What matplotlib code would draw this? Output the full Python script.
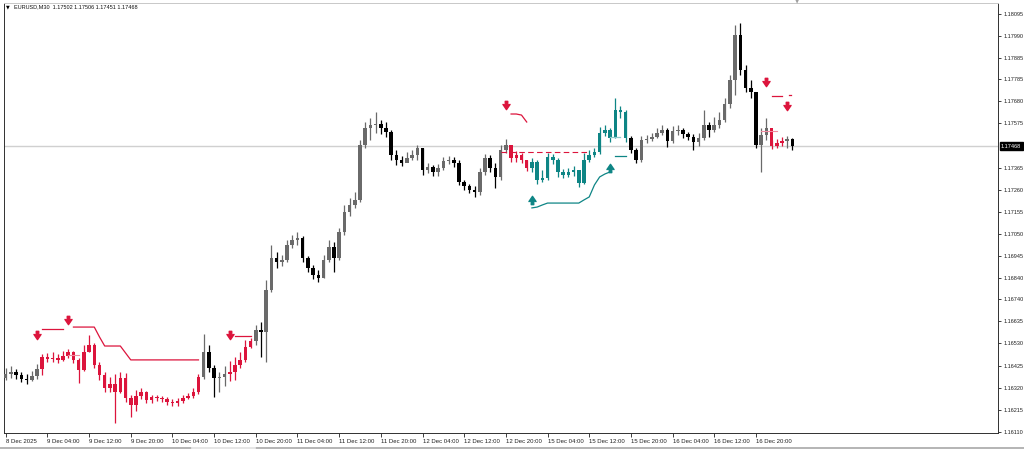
import numpy as np
import matplotlib
matplotlib.use("Agg")
import matplotlib.pyplot as plt
from matplotlib.path import Path
import matplotlib.transforms as mtransforms

# EURUSD, hourly steps
open0 = 1.16366
close = [1.16385, 1.16395, 1.16380, 1.16361, 1.16357, 1.16376, 1.16409, 1.16466,
         1.16456, 1.16461, 1.16452, 1.16471, 1.16490, 1.16452, 1.16404, 1.16490,
         1.16523, 1.16428, 1.16380, 1.16319, 1.16338, 1.16300, 1.16366, 1.16271,
         1.16238, 1.16281, 1.16300, 1.16262, 1.16276, 1.16271, 1.16266, 1.16252,
         1.16247, 1.16257, 1.16271, 1.16281, 1.16300, 1.16371, 1.16490, 1.16414,
         1.16366, 1.16371, 1.16385, 1.16395, 1.16428, 1.16452, 1.16513, 1.16542,
         1.16594, 1.16585, 1.16784, 1.16936, 1.16917, 1.16927, 1.16998, 1.17022,
         1.17031, 1.16936, 1.16889, 1.16855, 1.16841, 1.16927, 1.16988, 1.16936,
         1.17060, 1.17155, 1.17188, 1.17212, 1.17473, 1.17554, 1.17568, 1.17573,
         1.17554, 1.17535, 1.17425, 1.17402, 1.17387, 1.17411, 1.17425, 1.17459,
         1.17354, 1.17368, 1.17345, 1.17364, 1.17397, 1.17402, 1.17387, 1.17297,
         1.17278, 1.17259, 1.17250, 1.17345, 1.17411, 1.17364, 1.17321, 1.17449,
         1.17473, 1.17411, 1.17425, 1.17402, 1.17364, 1.17392, 1.17307, 1.17316,
         1.17416, 1.17402, 1.17345, 1.17330, 1.17345, 1.17354, 1.17292, 1.17402,
         1.17425, 1.17440, 1.17530, 1.17544, 1.17506, 1.17639, 1.17630, 1.17506,
         1.17449, 1.17402, 1.17497, 1.17501, 1.17511, 1.17530, 1.17544, 1.17492,
         1.17539, 1.17544, 1.17525, 1.17511, 1.17487, 1.17506, 1.17568, 1.17544,
         1.17568, 1.17592, 1.17668, 1.17782, 1.17995, 1.17829, 1.17744, 1.17725,
         1.17473, 1.17520, 1.17554, 1.17468, 1.17482, 1.17492, 1.17502, 1.17468]
high = [1.16414, 1.16423, 1.16409, 1.16395, 1.16385, 1.16399, 1.16433, 1.16480,
        1.16485, 1.16490, 1.16480, 1.16494, 1.16504, 1.16494, 1.16461, 1.16523,
        1.16570, 1.16532, 1.16442, 1.16395, 1.16371, 1.16385, 1.16395, 1.16390,
        1.16285, 1.16309, 1.16319, 1.16304, 1.16285, 1.16285, 1.16281, 1.16276,
        1.16266, 1.16271, 1.16285, 1.16295, 1.16319, 1.16385, 1.16575, 1.16523,
        1.16428, 1.16395, 1.16423, 1.16447, 1.16466, 1.16490, 1.16547, 1.16556,
        1.16618, 1.16632, 1.16832, 1.16998, 1.16965, 1.16950, 1.17022, 1.17045,
        1.17060, 1.17041, 1.16946, 1.16903, 1.16879, 1.16950, 1.17022, 1.17012,
        1.17079, 1.17188, 1.17221, 1.17250, 1.17497, 1.17582, 1.17601, 1.17630,
        1.17592, 1.17582, 1.17544, 1.17449, 1.17421, 1.17440, 1.17449, 1.17473,
        1.17459, 1.17387, 1.17378, 1.17383, 1.17416, 1.17421, 1.17416, 1.17402,
        1.17307, 1.17288, 1.17278, 1.17364, 1.17430, 1.17425, 1.17387, 1.17473,
        1.17501, 1.17459, 1.17444, 1.17435, 1.17402, 1.17411, 1.17402, 1.17354,
        1.17435, 1.17430, 1.17411, 1.17359, 1.17364, 1.17373, 1.17354, 1.17435,
        1.17449, 1.17459, 1.17558, 1.17568, 1.17554, 1.17696, 1.17658, 1.17639,
        1.17516, 1.17459, 1.17516, 1.17520, 1.17530, 1.17554, 1.17568, 1.17554,
        1.17563, 1.17568, 1.17554, 1.17535, 1.17525, 1.17530, 1.17639, 1.17582,
        1.17606, 1.17630, 1.17696, 1.17805, 1.18043, 1.18052, 1.17853, 1.17782,
        1.17725, 1.17554, 1.17601, 1.17497, 1.17501, 1.17511, 1.17516, 1.17506]
low = [1.16357, 1.16366, 1.16361, 1.16347, 1.16338, 1.16352, 1.16361, 1.16380,
       1.16442, 1.16442, 1.16437, 1.16447, 1.16461, 1.16437, 1.16342, 1.16399,
       1.16490, 1.16414, 1.16357, 1.16300, 1.16300, 1.16152, 1.16295, 1.16252,
       1.16181, 1.16209, 1.16266, 1.16247, 1.16247, 1.16257, 1.16252, 1.16238,
       1.16233, 1.16233, 1.16247, 1.16266, 1.16271, 1.16290, 1.16361, 1.16395,
       1.16276, 1.16300, 1.16328, 1.16352, 1.16357, 1.16414, 1.16442, 1.16509,
       1.16523, 1.16466, 1.16442, 1.16775, 1.16889, 1.16898, 1.16917, 1.16984,
       1.16998, 1.16917, 1.16870, 1.16836, 1.16822, 1.16841, 1.16917, 1.16870,
       1.16927, 1.17045, 1.17136, 1.17174, 1.17202, 1.17459, 1.17497, 1.17530,
       1.17525, 1.17511, 1.17402, 1.17378, 1.17373, 1.17392, 1.17402, 1.17402,
       1.17330, 1.17340, 1.17326, 1.17326, 1.17354, 1.17383, 1.17368, 1.17283,
       1.17259, 1.17245, 1.17226, 1.17235, 1.17330, 1.17345, 1.17269, 1.17307,
       1.17435, 1.17392, 1.17392, 1.17387, 1.17349, 1.17345, 1.17288, 1.17297,
       1.17307, 1.17383, 1.17321, 1.17316, 1.17321, 1.17326, 1.17273, 1.17288,
       1.17392, 1.17416, 1.17430, 1.17516, 1.17487, 1.17506, 1.17601, 1.17487,
       1.17435, 1.17387, 1.17392, 1.17482, 1.17492, 1.17506, 1.17520, 1.17463,
       1.17482, 1.17520, 1.17506, 1.17497, 1.17449, 1.17468, 1.17497, 1.17511,
       1.17535, 1.17554, 1.17582, 1.17649, 1.17710, 1.17805, 1.17725, 1.17696,
       1.17459, 1.17345, 1.17497, 1.17454, 1.17459, 1.17468, 1.17459, 1.17451]

# bars coloured by the trend indicator
red_bars = [(7, 37), (43, 47), (97, 100), (147, 149)]
teal_bars = [(101, 119)]

# indicator trailing lines: (first bar, values)
red_lines = [(7, [1.16599] * 5),
             (13, [1.16608] * 5 + [1.16561] + [1.16518] * 4 + [1.16485] + [1.16452] * 14),
             (44, [1.16566] * 4),
             (97, [1.17620, 1.17620, 1.17615, 1.17582]),
             (147, [1.17706] * 3)]
teal_line = (101, [1.17174, 1.17178, 1.17188] + [1.17197] * 7 + [1.17212, 1.17226, 1.17283,
             1.17321, 1.17335, 1.17345])
teal_short = [(117, [1.17421] * 3)]
light_teal = [(116, [1.17511] * 3)]
pink_lines = [(12, [1.16475] * 3), (145, [1.17539] * 4)]
red_dash = (95, 112, 1.17440)

down_arrows = [(6, 1.16570), (12, 1.16642), (43, 1.16570), (96, 1.17663), (146, 1.17772), (150, 1.17658)]
up_arrows = [(101, 1.17212), (116, 1.17364)]

current_price = 1.17468
price_ticks = [1.18095, 1.17990, 1.17885, 1.17785, 1.17680, 1.17575, 1.17365, 1.17260,
               1.17155, 1.17050, 1.16945, 1.16840, 1.16740, 1.16635, 1.16530, 1.16425,
               1.16320, 1.16215, 1.16110]
time_labels = ['8 Dec 2025', '9 Dec 04:00', '9 Dec 12:00', '9 Dec 20:00', '10 Dec 04:00',
               '10 Dec 12:00', '10 Dec 20:00', '11 Dec 04:00', '11 Dec 12:00', '11 Dec 20:00',
               '12 Dec 04:00', '12 Dec 12:00', '12 Dec 20:00', '15 Dec 04:00', '15 Dec 12:00',
               '15 Dec 20:00', '16 Dec 04:00', '16 Dec 12:00', '16 Dec 20:00']

RED = '#dc143c'
TEAL = '#0e8585'
BULL = '#6a6a6a'
BEAR = '#000000'

plt.rcParams['font.family'] = ['Liberation Sans', 'DejaVu Sans']

fig = plt.figure(figsize=(10.24, 4.5), dpi=100)
ax = fig.add_axes([4 / 1024, 1 - 433 / 450, 994 / 1024, 430 / 450])

n = len(close)
x = np.arange(n)
opens = np.array([open0] + close[:-1])
closes = np.array(close)

colors = []
for i in range(n):
    c = BULL if closes[i] >= opens[i] else BEAR
    for a, b in red_bars:
        if a <= i <= b:
            c = RED
    for a, b in teal_bars:
        if a <= i <= b:
            c = TEAL
    colors.append(c)

ax.axhline(current_price, color='#d0d0d0', lw=1.0, zorder=1)

ax.vlines(x, low, high, colors=colors, lw=0.9, zorder=2)
body_h = np.abs(closes - opens)
body_h = np.maximum(body_h, 0.00003)
ax.bar(x, body_h, bottom=np.minimum(opens, closes), width=0.68, color=colors,
       linewidth=0, zorder=3)

for start, vals in red_lines:
    ax.plot(np.arange(start, start + len(vals)), vals, color=RED, lw=0.9, zorder=4)
ax.plot(np.arange(teal_line[0], teal_line[0] + len(teal_line[1])), teal_line[1],
        color=TEAL, lw=0.9, zorder=4)
for start, vals in teal_short:
    ax.plot(np.arange(start, start + len(vals)), vals, color=TEAL, lw=0.9, zorder=4)
for start, vals in light_teal:
    ax.plot(np.arange(start, start + len(vals)), vals, color='#8cc8c8', lw=0.9, zorder=4)
for start, vals in pink_lines:
    ax.plot(np.arange(start, start + len(vals)), vals, color='#f08ca0', lw=0.8, zorder=4)
ax.plot([red_dash[0], red_dash[1]], [red_dash[2], red_dash[2]], color=RED, lw=0.8,
        ls=(0, (5, 3)), zorder=4)
ax.plot([150.3, 150.7], [1.17710, 1.17710], color=RED, lw=0.9, zorder=4)

down_marker = Path([(-0.3, 1), (0.3, 1), (0.3, 0.1), (0.85, 0.25), (0, -1), (-0.85, 0.25),
                    (-0.3, 0.1), (-0.3, 1)], closed=True)
up_marker = Path([(vx, -vy) for vx, vy in down_marker.vertices], closed=True)
ax.plot([a[0] for a in down_arrows], [a[1] for a in down_arrows], ls='none',
        marker=down_marker, ms=6, color=RED, zorder=5)
ax.plot([a[0] for a in up_arrows], [a[1] for a in up_arrows], ls='none',
        marker=up_marker, ms=6, color=TEAL, zorder=5)

ax.set_xlim(-0.33, 190.46)
ax.set_ylim(1.161048, 1.181473)

ax.yaxis.tick_right()
ax.set_yticks(price_ticks)
ax.set_yticklabels([f'{p:.5f}' for p in price_ticks])
ax.tick_params(axis='y', direction='out', length=2.5, width=0.6, labelsize=4, pad=1.5,
               colors='#202020')
ax.set_xticks(np.arange(0, 8 * len(time_labels), 8))
ax.set_xticklabels(time_labels, ha='left')
ax.tick_params(axis='x', direction='out', length=3, width=0.6, labelsize=4.3, pad=1.5,
               colors='#202020')

for s in ['left', 'bottom', 'right']:
    ax.spines[s].set_color('#303030')
    ax.spines[s].set_linewidth(0.7)
ax.spines['top'].set_color('#c8c8c8')
ax.spines['top'].set_linewidth(0.7)

trans = mtransforms.blended_transform_factory(ax.transAxes, ax.transData)
ax.text(1.003, current_price, f'{current_price:.5f}', transform=trans, ha='left', va='center',
        fontsize=4, color='white',
        bbox=dict(boxstyle='square,pad=0.25', facecolor='black', edgecolor='black'))

fig.text(6 / 1024, 1 - 7 / 450, '\u25bc', fontsize=3.5, family='DejaVu Sans', va='center')
fig.text(14 / 1024, 1 - 7 / 450, 'EURUSD,M30  1.17502 1.17506 1.17451 1.17468',
         fontsize=4.0, va='center', color='#101010')
fig.text(797 / 1024, 1 - 1.5 / 450, '\u25bc', fontsize=4, family='DejaVu Sans',
         color='#a0a0a0', ha='center', va='center')

fig.add_artist(plt.Line2D([0, 1], [1 - 448 / 450] * 2, transform=fig.transFigure,
                          color='#a8a8a8', lw=1.2))
fig.add_artist(plt.Line2D([192 / 1024, 255 / 1024], [1 - 448 / 450] * 2,
                          transform=fig.transFigure, color='#f0f0f0', lw=1.2))

fig.savefig('out.png', dpi=100)
